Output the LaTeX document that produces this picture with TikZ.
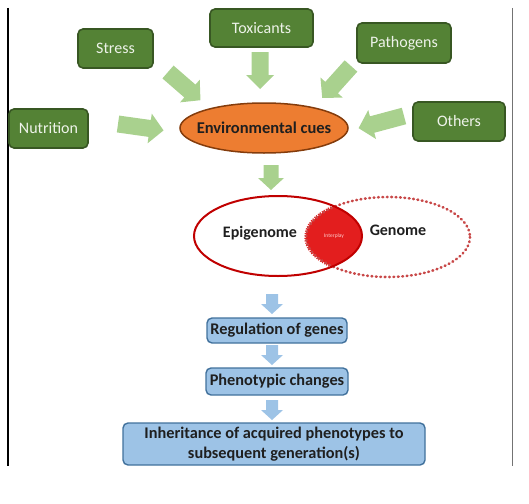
\documentclass[tikz,border=0pt]{standalone}
\usepackage{fontspec}
\setmainfont{Carlito}
\usetikzlibrary{shapes.geometric}
\definecolor{gfill}{HTML}{548235}
\definecolor{gdraw}{HTML}{385723}
\definecolor{garrow}{HTML}{A9D18E}
\definecolor{ofill}{HTML}{ED7D31}
\definecolor{odraw}{HTML}{843C0C}
\definecolor{bfill}{HTML}{9DC3E6}
\definecolor{bdraw}{HTML}{41719C}
\definecolor{darkred}{HTML}{C00000}
\definecolor{lensred}{HTML}{E31E1E}
\definecolor{dotred}{HTML}{C84848}
\definecolor{gtext}{HTML}{EEF3EA}
\begin{document}
\begin{tikzpicture}[x=1pt,y=-1pt,
 gbox/.style={draw=gdraw, line width=1.6pt, fill=gfill, rounded corners=5pt, text=gtext, font=\fontsize{16}{18}\selectfont, inner sep=0pt},
 bbox/.style={draw=bdraw, line width=1.4pt, fill=bfill, rounded corners=5pt, font=\bfseries\fontsize{16.3}{20}\selectfont, text=black!88, inner sep=0pt, align=center},
 garr/.style={fill=garrow},
 barr/.style={fill=bfill},
 lbl/.style={font=\bfseries\fontsize{16}{18}\selectfont, text=black!88, inner sep=0pt},
 pics/blockarrow/.style args={#1/#2/#3/#4}{code={\path[pic actions] (0,-#2) -- ({#1-#4},-#2) -- ({#1-#4},-#3) -- (#1,0) -- ({#1-#4},#3) -- ({#1-#4},#2) -- (0,#2) -- cycle;}}
]
\useasboundingbox (0,0) rectangle (529,503);
% frame lines
\draw[line width=2pt] (8,8) -- (8,466);
\draw[line width=1pt, black!55] (512,8) -- (512,466);

% green boxes
\node[gbox, minimum width=103pt, minimum height=38pt] (tox) at (261.5,28) {Toxicants};
\node[gbox, minimum width=75pt, minimum height=39pt] (str) at (115.5,48.5) {Stress};
\node[gbox, minimum width=94pt, minimum height=40pt] (pat) at (404,43) {Pathogens};
\node[gbox, minimum width=79pt, minimum height=39pt] (nut) at (48.5,128.5) {Nutrition};
\node[gbox, minimum width=92pt, minimum height=39pt] (oth) at (459,121.5) {Others};

% environmental cues
\node[ellipse, draw=odraw, line width=1.5pt, fill=ofill, minimum width=168pt, minimum height=50pt, inner sep=0pt] (env) at (264,128) {};
\node[lbl, font=\bfseries\fontsize{16.5}{18}\selectfont] (envt) at (env.center) {Environmental cues};

% green block arrows
\pic[garr, rotate=-41] at (168,72) {blockarrow={43/8.5/15/14}};
\pic[garr, rotate=-90] at (260,52) {blockarrow={37/8.5/14/14}};
\pic[garr, rotate=-132] at (351,66) {blockarrow={43/8.5/15/14}};
\pic[garr, rotate=-8] at (118,124) {blockarrow={46/8.5/15/14}};
\pic[garr, rotate=-165] at (404,116) {blockarrow={47/8.5/15/14}};
\pic[garr, rotate=-90] at (271,165) {blockarrow={25/7.5/13/12}};

% epigenome / genome
\coordinate (epic) at (278,236);
\coordinate (genc) at (388,237);
\begin{scope}
  \clip (epic) ellipse [x radius=84, y radius=40];
  \fill[lensred] (genc) ellipse [x radius=82, y radius=40];
  \draw[lensred, line width=3.6pt, dash pattern=on 1pt off 1.3pt] (genc) ellipse [x radius=82, y radius=40];
\end{scope}
\draw[dotred, line width=2.6pt, line cap=round, dash pattern=on 0.8pt off 3.6pt] (genc) ellipse [x radius=82, y radius=40];
\draw[darkred, line width=2pt] (epic) ellipse [x radius=84, y radius=40];
\node[lbl] (epi) at (260,233) {Epigenome};
\node[lbl] (gen) at (398,230) {Genome};
\node[font=\fontsize{5.5}{6}\selectfont, text=white!80!red, inner sep=0pt] (int) at (334,236) {Interplay};

% blue arrows
\pic[barr, rotate=-90] at (272,294) {blockarrow={20/6/11/10}};
\pic[barr, rotate=-90] at (272,345) {blockarrow={20/6/11/10}};
\pic[barr, rotate=-90] at (272,400) {blockarrow={20/6/11/10}};

% blue boxes
\node[bbox, minimum width=140pt, minimum height=25pt] (reg) at (277,330.5) {Regulation of genes};
\node[bbox, minimum width=142pt, minimum height=27pt] (phe) at (277,381.5) {Phenotypic changes};
\node[bbox, minimum width=302pt, minimum height=42pt] (inh) at (274,444) {Inheritance of acquired phenotypes to\\subsequent generation(s)};
\end{tikzpicture}
\end{document}
